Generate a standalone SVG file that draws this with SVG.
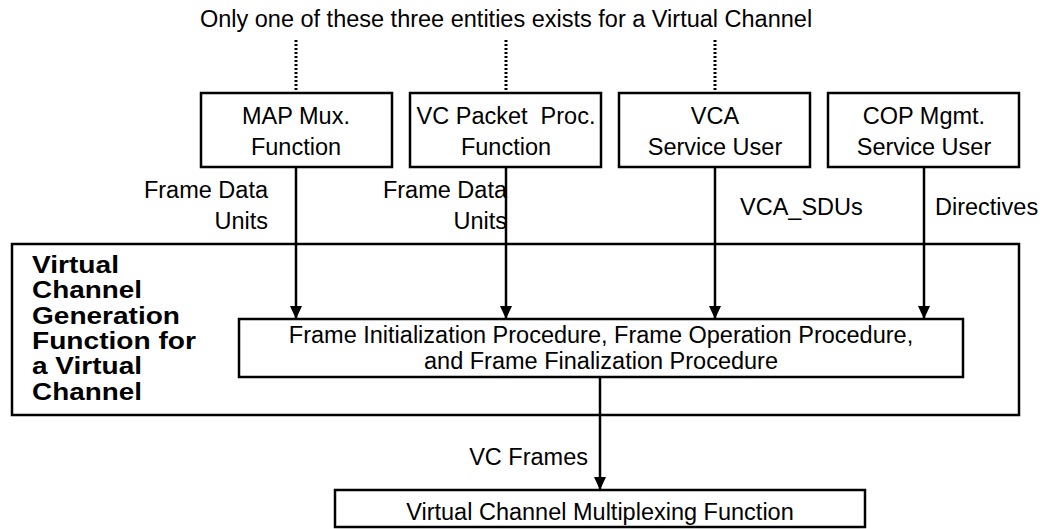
<svg xmlns="http://www.w3.org/2000/svg" width="1048" height="529" viewBox="0 0 1048 529">
<defs>
<style>
text{font-family:"Liberation Sans",Arial,sans-serif;font-size:23.5px;fill:#000}
.c{text-anchor:middle}
.e{text-anchor:end}
.b{font-weight:bold}
.box{fill:#fff;stroke:#000;stroke-width:2.5}
.ln{fill:none;stroke:#000;stroke-width:2.5}
.dot{fill:none;stroke:#000;stroke-width:3;stroke-dasharray:2 2}
</style>
<marker id="ah" markerWidth="14" markerHeight="12" refX="13" refY="6" orient="auto" markerUnits="userSpaceOnUse">
<path d="M0,0 L13,6 L0,12 z" fill="#000"/>
</marker>
</defs>
<rect width="1048" height="529" fill="#fff"/>
<text class="c" x="506" y="27">Only one of these three entities exists for a Virtual Channel</text>
<g id="outer">
<rect class="box" x="12" y="244" width="1007" height="171"/>
<text class="b" x="32" y="273" textLength="87" lengthAdjust="spacingAndGlyphs">Virtual</text>
<text class="b" x="32" y="298" textLength="110" lengthAdjust="spacingAndGlyphs">Channel</text>
<text class="b" x="32" y="324" textLength="148" lengthAdjust="spacingAndGlyphs">Generation</text>
<text class="b" x="32" y="349" textLength="164" lengthAdjust="spacingAndGlyphs">Function for</text>
<text class="b" x="32" y="374" textLength="110" lengthAdjust="spacingAndGlyphs">a Virtual</text>
<text class="b" x="32" y="400" textLength="110" lengthAdjust="spacingAndGlyphs">Channel</text>
</g>
<g id="connectors">
<line class="dot" x1="296" y1="40" x2="296" y2="93"/>
<line class="dot" x1="506" y1="40" x2="506" y2="93"/>
<line class="dot" x1="715" y1="40" x2="715" y2="93"/>
<line class="ln" x1="296" y1="167" x2="296" y2="319" marker-end="url(#ah)"/>
<line class="ln" x1="506" y1="167" x2="506" y2="319" marker-end="url(#ah)"/>
<line class="ln" x1="715" y1="167" x2="715" y2="319" marker-end="url(#ah)"/>
<line class="ln" x1="924" y1="167" x2="924" y2="319" marker-end="url(#ah)"/>
<line class="ln" x1="600" y1="377" x2="600" y2="490" marker-end="url(#ah)"/>
<text class="e" x="268" y="198">Frame Data</text>
<text class="e" x="268" y="229">Units</text>
<text class="e" x="507" y="198">Frame Data</text>
<text class="e" x="507" y="229">Units</text>
<text x="740" y="215">VCA_SDUs</text>
<text x="935" y="215">Directives</text>
<text class="e" x="588" y="465">VC Frames</text>
</g>
<g id="map">
<rect class="box" x="201" y="93" width="191" height="74"/>
<text class="c" x="296" y="124">MAP Mux.</text>
<text class="c" x="296" y="155">Function</text>
</g>
<g id="vcpp">
<rect class="box" x="410" y="93" width="191" height="74"/>
<text class="c" x="506" y="124" xml:space="preserve">VC Packet  Proc.</text>
<text class="c" x="506" y="155">Function</text>
</g>
<g id="vca">
<rect class="box" x="619" y="93" width="191" height="74"/>
<text class="c" x="715" y="124">VCA</text>
<text class="c" x="715" y="155">Service User</text>
</g>
<g id="cop">
<rect class="box" x="828" y="93" width="191" height="74"/>
<text class="c" x="924" y="124">COP Mgmt.</text>
<text class="c" x="924" y="155">Service User</text>
</g>
<g id="frameproc">
<rect class="box" x="239" y="319" width="724" height="58"/>
<text class="c" x="601" y="343">Frame Initialization Procedure, Frame Operation Procedure,</text>
<text class="c" x="601" y="369">and Frame Finalization Procedure</text>
</g>
<g id="vcmux">
<rect class="box" x="335" y="490" width="530" height="37"/>
<text class="c" x="600" y="520">Virtual Channel Multiplexing Function</text>
</g>
</svg>
